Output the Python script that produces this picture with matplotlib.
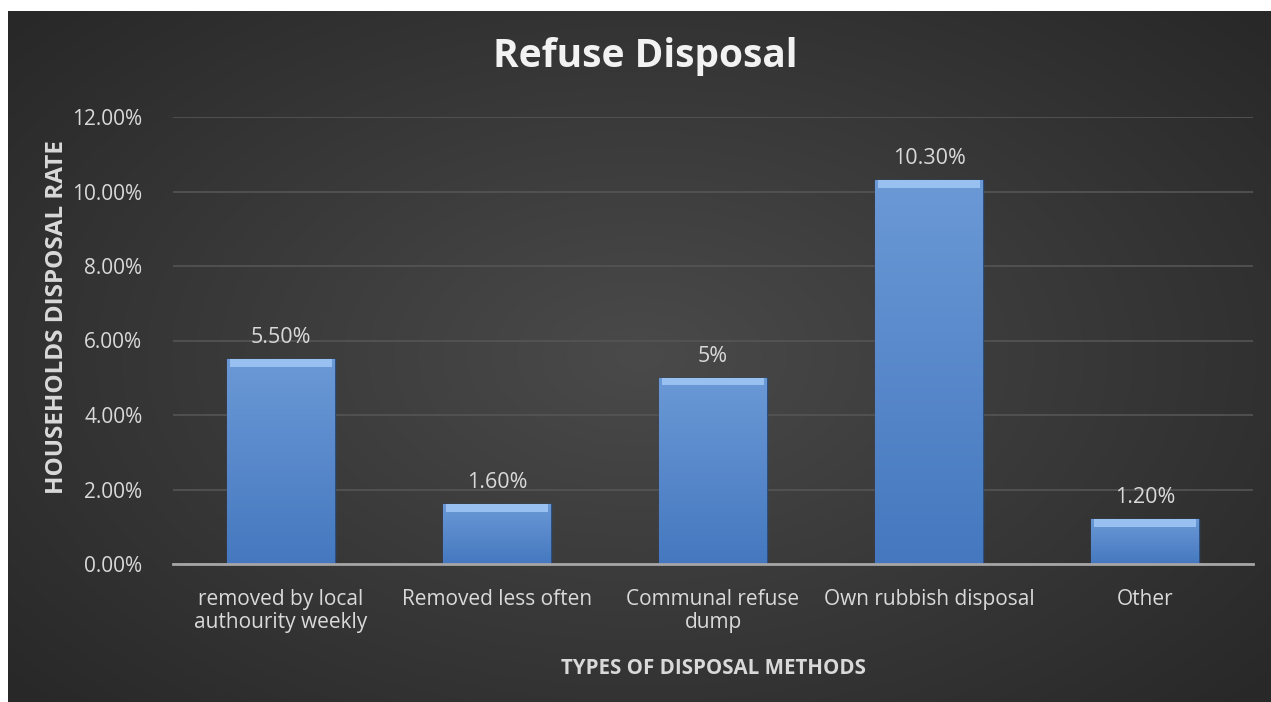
import numpy as np
import matplotlib.pyplot as plt
from matplotlib.ticker import PercentFormatter

categories = ['removed by local\nauthourity weekly', 'Removed less often',
              'Communal refuse\ndump', 'Own rubbish disposal', 'Other']
values = [5.5, 1.6, 5.0, 10.3, 1.2]
labels = ['5.50%', '1.60%', '5%', '10.30%', '1.20%']

plt.rcParams['font.family'] = ['Open Sans', 'DejaVu Sans']

fig = plt.figure(figsize=(12.71, 7.02), dpi=100)
fig.patch.set_facecolor('white')

# dark radial background, leaving the white strip at top and left
bg = fig.add_axes([8 / 1271, 0, 1 - 8 / 1271, 1 - 11 / 702])
bg.set_axis_off()
yy, xx = np.mgrid[-1:1:300j, -1:1:500j]
r = np.sqrt(xx ** 2 + (yy * 0.9) ** 2)
shade = 0.29 - 0.13 * np.clip(r / 1.3, 0, 1)
bg.imshow(np.dstack([shade] * 3), aspect='auto', extent=[0, 1, 0, 1])

ax = fig.add_axes([173 / 1271, 138 / 702, 1080 / 1271, 447 / 702])
ax.set_facecolor('none')
ax.set_xlim(-0.5, len(categories) - 0.5)
ax.set_ylim(0, 12)

x = np.arange(len(categories))
bars = ax.bar(x, values, width=0.5, color='#4a80c8', edgecolor='#2c4f80', linewidth=1, zorder=3)

# soft vertical gradient inside each bar
grad = np.linspace(0, 1, 100).reshape(-1, 1)
top_c = np.array([0.42, 0.60, 0.84])
bot_c = np.array([0.27, 0.47, 0.75])
img = grad[..., None] * top_c + (1 - grad[..., None]) * bot_c
for b in bars:
    x0, w, h = b.get_x(), b.get_width(), b.get_height()
    im = ax.imshow(img, extent=[x0, x0 + w, 0, h], origin='lower', aspect='auto', zorder=3.5)
    im.set_clip_path(b)

# bevel highlight on top of each bar
ax.bar(x, [0.2] * len(values), bottom=[v - 0.2 for v in values], width=0.47,
       color='#98c0f0', linewidth=0, zorder=4)

for xi, v, lab in zip(x, values, labels):
    ax.text(xi, v + 0.3, lab, ha='center', va='bottom', color='#d9d9d9', fontsize=15.5)

ax.set_yticks(np.arange(0, 12.1, 2))
ax.yaxis.set_major_formatter(PercentFormatter(decimals=2))
ax.grid(axis='y', color='#555555', linewidth=1.2, zorder=0)
ax.set_xticks(x)
ax.set_xticklabels(categories, color='#d9d9d9', fontsize=15, linespacing=1.1)
ax.tick_params(axis='y', colors='#d9d9d9', labelsize=15, length=0, pad=22)
ax.tick_params(axis='x', length=0, pad=18)
for s in ['top', 'right', 'left']:
    ax.spines[s].set_visible(False)
ax.spines['bottom'].set_color('#a6a6a6')
ax.spines['bottom'].set_linewidth(2)
ax.spines['bottom'].set_zorder(5)

ax.set_xlabel('TYPES OF DISPOSAL METHODS', color='#d9d9d9', fontsize=14.8,
              fontweight='bold', labelpad=18)
ax.set_ylabel('HOUSEHOLDS DISPOSAL RATE', color='#d9d9d9', fontsize=17.5,
              fontweight='bold')
ax.yaxis.set_label_coords(-104 / 1080, (564 - 317) / 447)

fig.text(645 / 1271, 1 - 56 / 702, 'Refuse Disposal', ha='center', va='center',
         color='#f2f2f2', fontsize=28, fontweight='bold')

fig.savefig('out.png', dpi=100, facecolor=fig.get_facecolor())
